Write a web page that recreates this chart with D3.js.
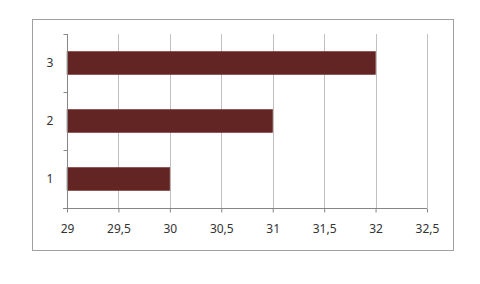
<!DOCTYPE html>
<html lang="en">
<head>
<meta charset="utf-8">
<title>Bar chart</title>
<script src="https://cdn.jsdelivr.net/npm/d3@7"></script>
<style>
  body { margin: 0; background: #fff; }
  .axis text { font-family: "Noto Sans", sans-serif; font-size: 12px; fill: #333333; }
</style>
</head>
<body>
<script>
// data
var categories = ["1", "2", "3"];
var values = [30, 31, 32];
var xTicks = [29, 29.5, 30, 30.5, 31, 31.5, 32, 32.5];

var w = 480, h = 284;
var plotLeft = 67, plotRight = 427, plotTop = 34, plotBottom = 208;

var svg = d3.select("body").append("svg")
    .attr("width", w)
    .attr("height", h);

// chart border
svg.append("rect")
    .attr("x", 32.5).attr("y", 19.5)
    .attr("width", 421).attr("height", 231)
    .attr("fill", "#fff")
    .attr("stroke", "#a0a0a0")
    .attr("stroke-width", 1);

var xScale = d3.scaleLinear()
    .domain([29, 32.5])
    .range([plotLeft, plotRight]);

var yScale = d3.scaleBand()
    .domain(categories.slice().reverse())
    .range([plotTop, plotBottom])
    .paddingInner(0.6)
    .paddingOuter(0.3);

var fmt = function(d) { return String(d).replace(".", ","); };

// gridlines
svg.append("g")
    .selectAll("line")
    .data(xTicks.slice(1))
    .enter()
    .append("line")
    .attr("x1", function(d) { return Math.round(xScale(d)) + 0.5; })
    .attr("x2", function(d) { return Math.round(xScale(d)) + 0.5; })
    .attr("y1", plotTop)
    .attr("y2", plotBottom)
    .attr("stroke", "#c0c0c0");

// bars
svg.append("g")
    .selectAll("rect")
    .data(values)
    .enter()
    .append("rect")
    .attr("x", xScale(29))
    .attr("y", function(d, i) { return yScale(categories[i]); })
    .attr("width", function(d) { return xScale(d) - xScale(29); })
    .attr("height", yScale.bandwidth())
    .attr("fill", "#632523")
    .attr("stroke", "#7a3a38")
    .attr("stroke-width", 0.5);

// x axis
var xAxis = d3.axisBottom(xScale)
    .tickValues(xTicks)
    .tickFormat(fmt)
    .tickSize(4)
    .tickPadding(12);

var gx = svg.append("g")
    .attr("class", "axis")
    .attr("transform", "translate(0," + (plotBottom + 0.5) + ")")
    .call(xAxis);
gx.select(".domain").attr("stroke", "#868686").attr("d", "M" + (plotLeft - 4) + ",0H" + plotRight);
gx.selectAll(".tick line").attr("stroke", "#868686");
gx.selectAll(".tick text").attr("fill", "#333333");

// y axis with ticks between categories
var yLin = d3.scaleLinear().domain([0, 3]).range([plotBottom, plotTop]);
var gy = svg.append("g")
    .attr("class", "axis")
    .attr("transform", "translate(" + (plotLeft + 0.5) + ",0)")
    .call(d3.axisLeft(yLin).tickValues([0, 1, 2, 3]).tickSize(4).tickFormat(""));
gy.select(".domain").attr("stroke", "#868686").attr("d", "M0," + plotTop + "V" + plotBottom);
gy.selectAll(".tick line").attr("stroke", "#868686");

svg.append("g")
    .attr("class", "axis")
    .selectAll("text")
    .data(categories)
    .enter()
    .append("text")
    .attr("x", 50)
    .attr("y", function(d) { return yScale(d) + yScale.bandwidth() / 2; })
    .attr("dy", "0.35em")
    .attr("text-anchor", "middle")
    .attr("fill", "#333333")
    .text(function(d) { return d; });
</script>
</body>
</html>
